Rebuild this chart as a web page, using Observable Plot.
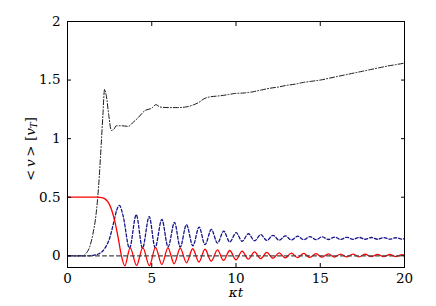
<!DOCTYPE html>
<html><head><meta charset="utf-8">
<script src="https://cdn.jsdelivr.net/npm/d3@7"></script>
<script src="https://cdn.jsdelivr.net/npm/@observablehq/plot@0.6"></script>
<style>body{margin:0;background:#fff} #chart svg{display:block}</style>
</head><body><div id="chart"></div>
<script>
const xTicks = [0, 5, 10, 15, 20];
const yTicks = [0, 0.5, 1, 1.5, 2];

// black dash-dot series [t, v]
const blackPts = [[0,0],[0.9,0],[1.1,0.02],[1.3,0.07],[1.5,0.18],[1.7,0.36],[1.85,0.6],[2.0,0.95],[2.1,1.2],[2.2,1.42],[2.3,1.37],[2.45,1.2],[2.6,1.07],[2.75,1.08],[2.9,1.11],[3.2,1.11],[3.6,1.105],[3.9,1.14],[4.2,1.18],[4.6,1.24],[5.0,1.26],[5.25,1.29],[5.5,1.27],[6.0,1.265],[6.5,1.265],[7.0,1.27],[7.5,1.29],[7.8,1.31],[8.1,1.34],[8.4,1.355],[9.0,1.365],[9.5,1.375],[9.9,1.385],[10.5,1.39],[11.0,1.4],[11.5,1.415],[12.0,1.43],[12.5,1.44],[13.0,1.455],[13.5,1.465],[14.0,1.48],[14.5,1.49],[15.0,1.5],[15.5,1.515],[16.0,1.53],[16.5,1.545],[17.0,1.56],[17.5,1.575],[18.0,1.59],[18.5,1.605],[19.0,1.62],[19.5,1.632],[20,1.645]];

// blue dashed series [t, v]
const bluePts = [[0,0],[1.2,0],[1.6,0.006],[1.9,0.02],[2.2,0.06],[2.5,0.15],[2.75,0.29],[2.92,0.39],[3.08,0.43],[3.3,0.34],[3.68,0.065],[4.08,0.35],[4.45,0.065],[4.85,0.335],[5.2,0.07],[5.6,0.31],[5.97,0.075],[6.35,0.285],[6.69,0.075],[7.06,0.265],[7.44,0.085],[7.81,0.245],[8.16,0.095],[8.54,0.225],[8.9,0.108],[9.27,0.21],[9.63,0.118],[10.01,0.197],[10.36,0.124],[10.74,0.188],[11.1,0.128],[11.47,0.18],[11.83,0.131],[12.2,0.175],[12.56,0.133],[12.93,0.17],[13.29,0.135],[13.66,0.167],[14.02,0.137],[14.39,0.164],[14.75,0.138],[15.12,0.162],[15.48,0.139],[15.85,0.16],[16.21,0.14],[16.58,0.158],[16.94,0.14],[17.31,0.157],[17.67,0.141],[18.04,0.156],[18.4,0.141],[18.77,0.155],[19.13,0.142],[19.5,0.154],[19.86,0.142],[20,0.146]];

// red solid series [t, v]
const redPts = [[0,0.5],[1.8,0.5],[2.0,0.497],[2.2,0.488],[2.4,0.46],[2.6,0.4],[2.8,0.3],[3.0,0.16],[3.2,0.0],[3.4,-0.085],[3.72,0.068],[4.1,-0.082],[4.47,0.07],[4.86,-0.085],[5.22,0.072],[5.6,-0.075],[5.96,0.068],[6.33,-0.068],[6.69,0.066],[7.06,-0.06],[7.43,0.06],[7.8,-0.053],[8.16,0.056],[8.53,-0.046],[8.9,0.05],[9.26,-0.04],[9.63,0.045],[10.0,-0.034],[10.36,0.04],[10.73,-0.029],[11.1,0.034],[11.46,-0.025],[11.83,0.029],[12.19,-0.021],[12.56,0.025],[12.92,-0.018],[13.29,0.022],[13.65,-0.016],[14.02,0.02],[14.38,-0.014],[14.75,0.018],[15.11,-0.012],[15.48,0.016],[15.84,-0.011],[16.21,0.015],[16.57,-0.01],[16.94,0.014],[17.3,-0.009],[17.67,0.013],[18.03,-0.008],[18.4,0.012],[18.76,-0.007],[19.13,0.011],[19.49,-0.007],[19.86,0.01],[20,0.005]];

// zero reference (dashed)
const zeroPts = [[0,0],[20,0]];

const font = "DejaVu Serif";
const fs = 13.5;

const chart = Plot.plot({
  width: 436, height: 306,
  marginLeft: 67, marginRight: 32, marginTop: 21, marginBottom: 39,
  style: {fontFamily: font, fontSize: fs + "px", background: "#fff", color: "#000"},
  x: {domain: [0, 20], label: null},
  y: {domain: [-0.1, 2], label: null},
  marks: [
    Plot.line(blackPts, {x: d => d[0], y: d => d[1], stroke: "#000", strokeWidth: 0.9, strokeDasharray: "5,2,1,2", curve: "monotone-x"}),
    Plot.line(bluePts, {x: d => d[0], y: d => d[1], stroke: "#14148c", strokeWidth: 1.3, strokeDasharray: "3,2", curve: "monotone-x"}),
    Plot.line(redPts, {x: d => d[0], y: d => d[1], stroke: "#ff0000", strokeWidth: 1.3, curve: "monotone-x"}),
    Plot.line(zeroPts, {x: d => d[0], y: d => d[1], stroke: "#444", strokeWidth: 1.2, strokeDasharray: "4,3"}),
    Plot.frame({stroke: "#000", strokeWidth: 1}),
    Plot.axisX({ticks: xTicks, anchor: "bottom", tickSize: 4, dy: -4, fill: "none", label: null}),
    Plot.axisX({ticks: xTicks, anchor: "top", tickSize: 4, dy: 4, fill: "none", label: null}),
    Plot.axisX({ticks: xTicks, anchor: "bottom", tickSize: 0, tickPadding: 6, label: null, fontSize: fs, fontFamily: font, tickFormat: d => String(d)}),
    Plot.axisY({ticks: yTicks, anchor: "left", tickSize: 4, dx: 4, fill: "none", label: null}),
    Plot.axisY({ticks: yTicks, anchor: "right", tickSize: 4, dx: -4, fill: "none", label: null}),
    Plot.axisY({ticks: yTicks, anchor: "left", tickSize: 0, tickPadding: 7, label: null, fontSize: fs, fontFamily: font, tickFormat: d => String(d)}),
    Plot.text(["κt"], {text: d => d, frameAnchor: "bottom", dy: 29, fontStyle: "italic", fontSize: fs, fontFamily: font})
  ]
});
document.getElementById("chart").appendChild(chart);

// y-axis label with subscript
const svg = d3.select(chart);
const lab = svg.append("text")
  .attr("transform", "translate(31,149) rotate(-90)")
  .attr("text-anchor", "middle")
  .attr("dominant-baseline", "middle")
  .attr("font-family", font)
  .attr("font-size", fs)
  .attr("fill", "#000");
lab.append("tspan").text("<\u2009");
lab.append("tspan").attr("font-style", "italic").text("v");
lab.append("tspan").text("\u2009>\u00a0[");
lab.append("tspan").attr("font-style", "italic").text("v");
lab.append("tspan").attr("font-style", "italic").attr("font-size", 9).attr("dy", 3).text("T");
lab.append("tspan").attr("dy", -3).text("]");
</script>
</body></html>
